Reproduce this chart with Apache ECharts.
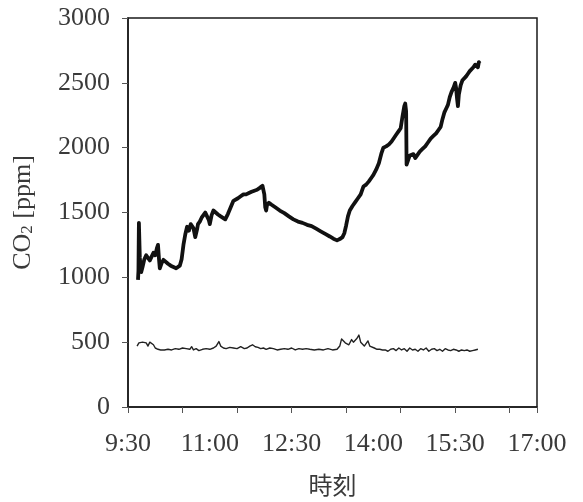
<!DOCTYPE html>
<html>
<head>
<meta charset="utf-8">
<script src="https://cdn.jsdelivr.net/npm/echarts@6/dist/echarts.min.js"></script>
<style>
html,body{margin:0;padding:0;background:#fff;}
#chart{width:583px;height:502px;}
</style>
</head>
<body>
<div id="chart"></div>
<script>
// Time is given in minutes after 9:30.
var xTickLabels = ['9:30', '11:00', '12:30', '14:00', '15:30', '17:00'];
var yTickLabels = [0, 500, 1000, 1500, 2000, 2500, 3000];

// Indoor CO2 [ppm]
var indoorT = [11,11.5,12,13,14.5,16,18,20,22,24,26,28,30,32,33,34,35,37,39,41,44,47,50,53,55,57,59,61,63,65,67,69,70,72,74,76,77,79,81,83,85,87,89,90,92,94,96,99,102,104,107,110,113,116,118,121,124,127,130,133,136,139,142,145,148,150,151,152,153,155,158,162,167,172,177,182,187,192,197,202,207,212,217,222,226,230,233,236,238,240,242,244,247,250,253,256,259,262,265,268,270,273,276,279,281,284,287,290,292,295,298,300,302,304,305,306,306.5,308,310,312,314,316,318,321,324,327,330,333,336,339,342,344,346,348,350,352,354,356,358,360,361,362,363,364,366,368,370,372,374,376,378,380,382,384,385,386,387];
var indoorV = [980,1050,1420,1150,1040,1080,1140,1170,1150,1130,1160,1190,1170,1230,1250,1150,1070,1110,1135,1120,1105,1090,1080,1070,1065,1090,1140,1250,1330,1390,1360,1410,1425,1380,1310,1370,1410,1430,1460,1480,1500,1470,1440,1410,1480,1515,1500,1485,1470,1455,1447,1490,1540,1590,1600,1610,1625,1640,1640,1650,1660,1668,1675,1690,1706,1640,1540,1515,1560,1576,1560,1540,1515,1495,1470,1447,1430,1420,1405,1395,1375,1355,1335,1315,1298,1285,1295,1310,1340,1400,1470,1515,1550,1580,1610,1640,1700,1715,1740,1770,1790,1830,1880,1960,2000,2010,2025,2048,2060,2100,2130,2150,2240,2320,2340,2280,1870,1900,1940,1930,1950,1920,1930,1970,1990,2010,2040,2070,2090,2110,2140,2160,2220,2270,2300,2330,2390,2430,2460,2500,2460,2380,2320,2410,2480,2520,2530,2550,2570,2590,2600,2620,2640,2650,2620,2660,2650];

// Outdoor CO2 [ppm]
var outdoorT = [10,12,14,16,18,20,22,24,26,28,30,33,36,40,44,48,52,56,60,64,68,70,72,75,78,82,86,90,94,97,100,102,105,108,112,116,120,124,128,131,134,137,140,143,146,149,152,156,160,164,168,172,176,180,184,188,192,196,200,205,210,215,220,225,230,233,235,237,239,241,243,246,248,250,252,254,256,258,260,262,264,266,268,271,274,277,280,283,286,289,292,295,298,301,304,307,310,313,316,319,322,325,328,331,334,337,340,343,346,349,352,355,358,361,364,367,370,373,376,379,382,385];
var outdoorV = [470,495,480,500,485,495,470,500,490,480,455,445,440,440,445,440,450,445,455,450,445,465,440,450,435,445,450,445,455,470,505,470,455,450,460,455,450,465,450,455,470,480,465,460,450,455,445,455,450,440,445,450,445,455,440,450,445,450,445,440,445,440,450,440,445,470,525,540,495,505,480,520,500,490,530,555,500,490,470,475,510,470,460,455,445,445,440,440,430,445,450,435,455,440,450,430,455,440,445,430,450,440,455,430,445,450,435,445,430,450,440,435,445,440,430,440,435,440,430,435,440,445];

function pairs(t, v) {
  return t.map(function (x, i) { return [x, v[i]]; });
}
function minutesToLabel(m) {
  var total = 9 * 60 + 30 + m;
  var h = Math.floor(total / 60), mm = total % 60;
  return h + ':' + (mm < 10 ? '0' : '') + mm;
}

var serif = '"Liberation Serif", "Times New Roman", serif';
var textColor = '#3a3a3a';
var lineColor = '#1a1a1a';

var chart = echarts.init(document.getElementById('chart'), null, { renderer: 'canvas' });
chart.setOption({
  backgroundColor: '#fff',
  animation: false,
  grid: {
    left: 128, right: 46, top: 18, bottom: 90,
    show: true, borderColor: lineColor, borderWidth: 1.5, backgroundColor: 'transparent'
  },
  xAxis: [
    {
      type: 'value', min: 0, max: 450, interval: 90,
      name: '時刻', nameLocation: 'middle', nameGap: 66,
      nameTextStyle: { fontFamily: '"Noto Sans CJK JP", sans-serif', fontSize: 24, color: textColor },
      axisLine: { show: true, lineStyle: { color: lineColor, width: 1.5 } },
      axisTick: { show: false },
      splitLine: { show: false },
      axisLabel: {
        margin: 24, fontFamily: serif, fontSize: 26, color: textColor,
        formatter: function (v) {
          var s = minutesToLabel(v);
          return xTickLabels.indexOf(s) >= 0 ? s : '';
        }
      }
    },
    {
      // hourly tick marks along the bottom edge
      type: 'value', min: 0, max: 450, interval: 60, position: 'bottom',
      axisLine: { show: false },
      axisTick: { show: true, inside: false, length: 6, lineStyle: { color: '#555', width: 1 } },
      axisLabel: { show: false },
      splitLine: { show: false }
    }
  ],
  yAxis: {
    type: 'value', min: 0, max: 3000, interval: 500,
    name: '{a|CO}{s|2}{a| [ppm]}', nameLocation: 'middle', nameGap: 92, nameRotate: 90,
    nameTextStyle: {
      rich: {
        a: { fontFamily: serif, fontSize: 26, color: textColor },
        s: { fontFamily: serif, fontSize: 17, color: textColor, verticalAlign: 'bottom', padding: [9, 0, 0, 0] }
      }
    },
    axisLine: { show: true, lineStyle: { color: lineColor, width: 1.5 } },
    axisTick: { show: true, inside: false, length: 6, lineStyle: { color: '#555', width: 1 } },
    splitLine: { show: false },
    axisLabel: {
      margin: 18, fontFamily: serif, fontSize: 26, color: textColor,
      formatter: function (v) { return yTickLabels.indexOf(v) >= 0 ? String(v) : ''; }
    }
  },
  series: [
    {
      name: 'indoor', type: 'line', xAxisIndex: 0, showSymbol: false, symbol: 'none',
      data: pairs(indoorT, indoorV),
      lineStyle: { color: '#111', width: 3.8, join: 'round' }
    },
    {
      name: 'outdoor', type: 'line', xAxisIndex: 0, showSymbol: false, symbol: 'none',
      data: pairs(outdoorT, outdoorV),
      lineStyle: { color: '#222', width: 1.4, join: 'round' }
    }
  ]
});
</script>
</body>
</html>
